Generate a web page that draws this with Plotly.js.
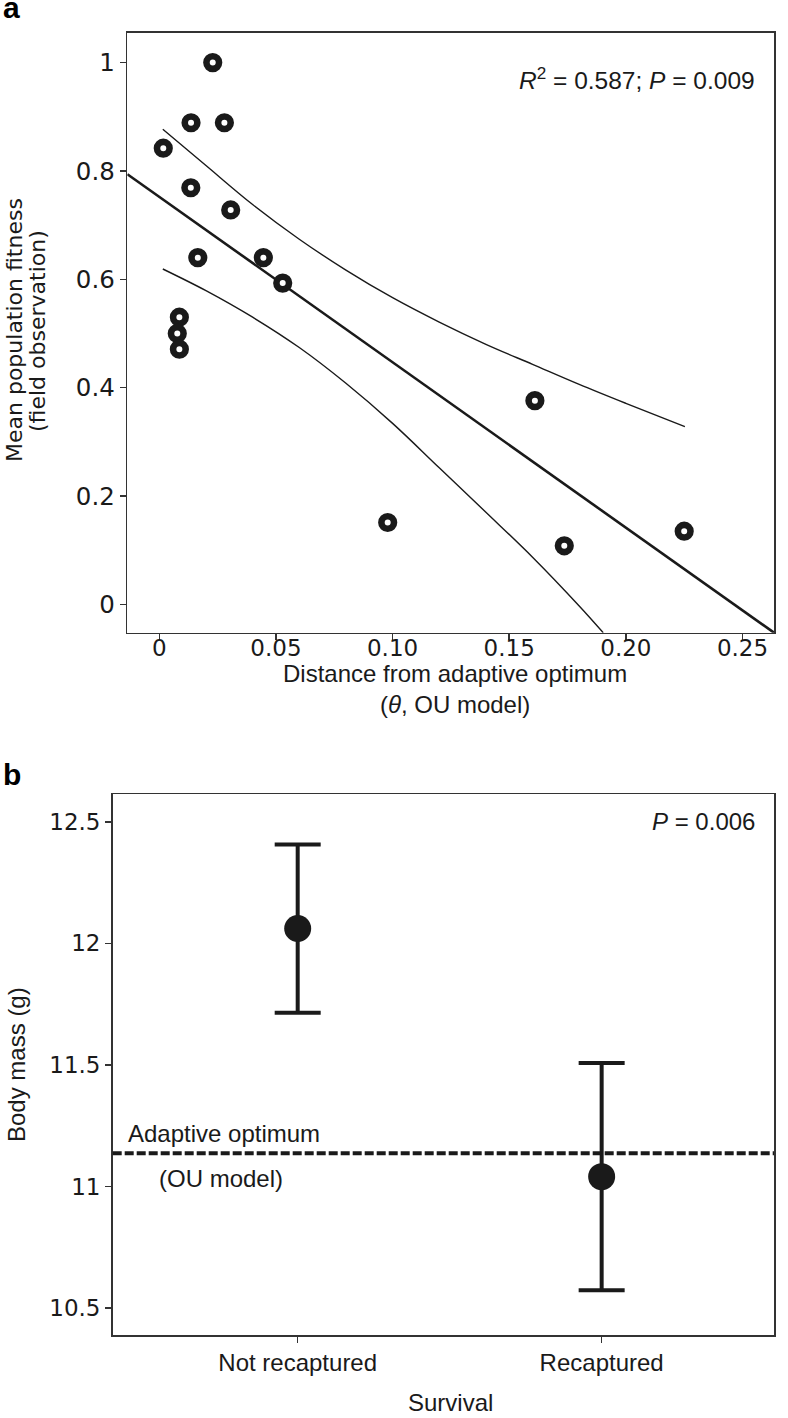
<!DOCTYPE html>
<html>
<head>
<meta charset="utf-8">
<script src="https://cdn.plot.ly/plotly-3.0.1.min.js"></script>
<style>
  html, body { margin: 0; padding: 0; background: #ffffff; }
  #chart { width: 788px; height: 1418px; }
</style>
</head>
<body>
<div id="chart"></div>
<script>
// ---------- Panel a data ----------
const distanceTheta = [0.0017, 0.0136, 0.0229, 0.0279, 0.0135, 0.0306, 0.0165, 0.0446, 0.0529, 0.0086, 0.0077, 0.0086, 0.0979, 0.1610, 0.1736, 0.2250];
const meanFitness   = [0.842, 0.889, 1.000, 0.889, 0.769, 0.728, 0.640, 0.640, 0.593, 0.530, 0.500, 0.471, 0.151, 0.376, 0.108, 0.135];

const fitLineX = [-0.0137, 0.2635];
const fitLineY = [0.794, -0.0524];

const upperBandX = [0.0015, 0.02, 0.04, 0.06, 0.08, 0.10, 0.12, 0.14, 0.16, 0.18, 0.20, 0.2253];
const upperBandY = [0.877, 0.810, 0.738, 0.674, 0.617, 0.566, 0.521, 0.480, 0.443, 0.406, 0.371, 0.328];

const lowerBandX = [0.0015, 0.02, 0.04, 0.06, 0.08, 0.10, 0.12, 0.14, 0.16, 0.18, 0.1903];
const lowerBandY = [0.619, 0.579, 0.530, 0.474, 0.408, 0.334, 0.252, 0.170, 0.087, -0.003, -0.0524];

const xTicksA = [0, 0.05, 0.10, 0.15, 0.20, 0.25];
const xTickTextA = ['0', '0.05', '0.10', '0.15', '0.20', '0.25'];
const yTicksA = [0, 0.2, 0.4, 0.6, 0.8, 1];
const yTickTextA = ['0', '0.2', '0.4', '0.6', '0.8', '1'];

// ---------- Panel b data ----------
const survival = ['Not recaptured', 'Recaptured'];
const bodyMass = [12.061, 11.041];
const bodyMassErr = [0.346, 0.467];
const adaptiveOptimum = 11.1375;
const yTicksB = [10.5, 11, 11.5, 12, 12.5];
const yTickTextB = ['10.5', '11', '11.5', '12', '12.5'];

// ---------- helpers (pixel -> paper) ----------
const W = 788, H = 1418;
const px = v => v / W;
const py = v => 1 - v / H;

const ink = '#1a1a1a';
const fontFam = 'Liberation Sans, Arial, Helvetica, sans-serif';
const tickFam = 'DejaVu Sans, Liberation Sans, Arial, sans-serif';

const traces = [
  { x: upperBandX, y: upperBandY, xaxis: 'x', yaxis: 'y', mode: 'lines',
    line: { color: ink, width: 1.4, shape: 'spline', smoothing: 1 }, hoverinfo: 'skip', showlegend: false },
  { x: lowerBandX, y: lowerBandY, xaxis: 'x', yaxis: 'y', mode: 'lines',
    line: { color: ink, width: 1.4, shape: 'spline', smoothing: 1 }, hoverinfo: 'skip', showlegend: false },
  { x: fitLineX, y: fitLineY, xaxis: 'x', yaxis: 'y', mode: 'lines',
    line: { color: ink, width: 2.6 }, hoverinfo: 'skip', showlegend: false },
  { x: distanceTheta, y: meanFitness, xaxis: 'x', yaxis: 'y', mode: 'markers',
    marker: { symbol: 'circle', size: 12.6, color: '#ffffff', line: { color: ink, width: 6.6 } },
    cliponaxis: false, showlegend: false },
  { x: survival, y: bodyMass, xaxis: 'x2', yaxis: 'y2', mode: 'markers',
    marker: { symbol: 'circle', size: 27, color: ink },
    error_y: { type: 'data', array: bodyMassErr, visible: true, color: ink, thickness: 4, width: 23 },
    showlegend: false }
];

const axisCommon = {
  showline: true, mirror: true, linecolor: '#333333', linewidth: 1.6,
  ticks: 'outside', ticklen: 6, tickwidth: 1.5, tickcolor: '#333333',
  showgrid: false, zeroline: false,
  tickfont: { family: tickFam, size: 23, color: ink }
};

const layout = {
  width: W, height: H,
  margin: { l: 0, r: 0, t: 0, b: 0 },
  paper_bgcolor: '#ffffff', plot_bgcolor: '#ffffff',
  showlegend: false,
  font: { family: fontFam, color: ink },
  xaxis: Object.assign({}, axisCommon, {
    domain: [px(127.3), px(774)], anchor: 'y',
    range: [-0.01372, 0.2635], tickvals: xTicksA, ticktext: xTickTextA,
    ticklabelstandoff: -12
  }),
  yaxis: Object.assign({}, axisCommon, {
    domain: [py(632.7), py(32.5)], anchor: 'x',
    range: [-0.0524, 1.0556], tickvals: yTicksA, ticktext: yTickTextA,
    tickfont: { family: tickFam, size: 24.5, color: ink }
  }),
  xaxis2: Object.assign({}, axisCommon, {
    domain: [px(112.7), px(774)], anchor: 'y2', type: 'category',
    range: [-0.6086, 1.567],
    tickfont: { family: fontFam, size: 24, color: ink }
  }),
  yaxis2: Object.assign({}, axisCommon, {
    domain: [py(1335), py(794.3)], anchor: 'x2',
    range: [10.39, 12.613], tickvals: yTicksB, ticktext: yTickTextB
  }),
  shapes: [
    { type: 'line', xref: 'x2 domain', yref: 'y2', x0: 0, x1: 1, y0: adaptiveOptimum, y1: adaptiveOptimum,
      line: { color: ink, width: 4, dash: '9px,3px' } }
  ],
  annotations: [
    { text: '<b>a</b>', xref: 'paper', yref: 'paper', x: px(1), y: py(8), xanchor: 'left', yanchor: 'middle',
      showarrow: false, font: { family: fontFam, size: 30, color: '#000' } },
    { text: '<b>b</b>', xref: 'paper', yref: 'paper', x: px(1), y: py(774), xanchor: 'left', yanchor: 'middle',
      showarrow: false, font: { family: fontFam, size: 30, color: '#000' } },
    { text: '<i>R</i><sup>2</sup> = 0.587; <i>P</i> = 0.009', xref: 'paper', yref: 'paper', x: px(757), y: py(78),
      xanchor: 'right', yanchor: 'middle', showarrow: false, font: { family: fontFam, size: 24.5, color: ink } },
    { text: '<i>P</i> = 0.006', xref: 'paper', yref: 'paper', x: px(757), y: py(821),
      xanchor: 'right', yanchor: 'middle', showarrow: false, font: { family: fontFam, size: 24, color: ink } },
    { text: 'Adaptive optimum', xref: 'paper', yref: 'paper', x: px(126), y: py(1133),
      xanchor: 'left', yanchor: 'middle', showarrow: false, font: { family: fontFam, size: 24, color: ink } },
    { text: '(OU model)', xref: 'paper', yref: 'paper', x: px(157), y: py(1178),
      xanchor: 'left', yanchor: 'middle', showarrow: false, font: { family: fontFam, size: 24, color: ink } },
    // axis titles
    { text: 'Distance from adaptive optimum<br>(<i>θ</i>, OU model)', xref: 'paper', yref: 'paper',
      x: px(455), y: py(689), xanchor: 'center', yanchor: 'middle', showarrow: false,
      font: { family: fontFam, size: 24, color: ink } },
    { text: 'Mean population fitness', xref: 'paper', yref: 'paper', textangle: -90,
      x: px(15), y: py(330), xanchor: 'center', yanchor: 'middle', showarrow: false,
      font: { family: tickFam, size: 22, color: ink } },
    { text: '(field observation)', xref: 'paper', yref: 'paper', textangle: -90,
      x: px(38), y: py(331), xanchor: 'center', yanchor: 'middle', showarrow: false,
      font: { family: tickFam, size: 22, color: ink } },
    { text: 'Survival', xref: 'paper', yref: 'paper', x: px(450), y: py(1402),
      xanchor: 'center', yanchor: 'middle', showarrow: false, font: { family: fontFam, size: 24, color: ink } },
    { text: 'Body mass (g)', xref: 'paper', yref: 'paper', textangle: -90, x: px(16), y: py(1065),
      xanchor: 'center', yanchor: 'middle', showarrow: false, font: { family: fontFam, size: 24, color: ink } }
  ]
};

Plotly.newPlot('chart', traces, layout, { staticPlot: true, displayModeBar: false });
</script>
</body>
</html>
